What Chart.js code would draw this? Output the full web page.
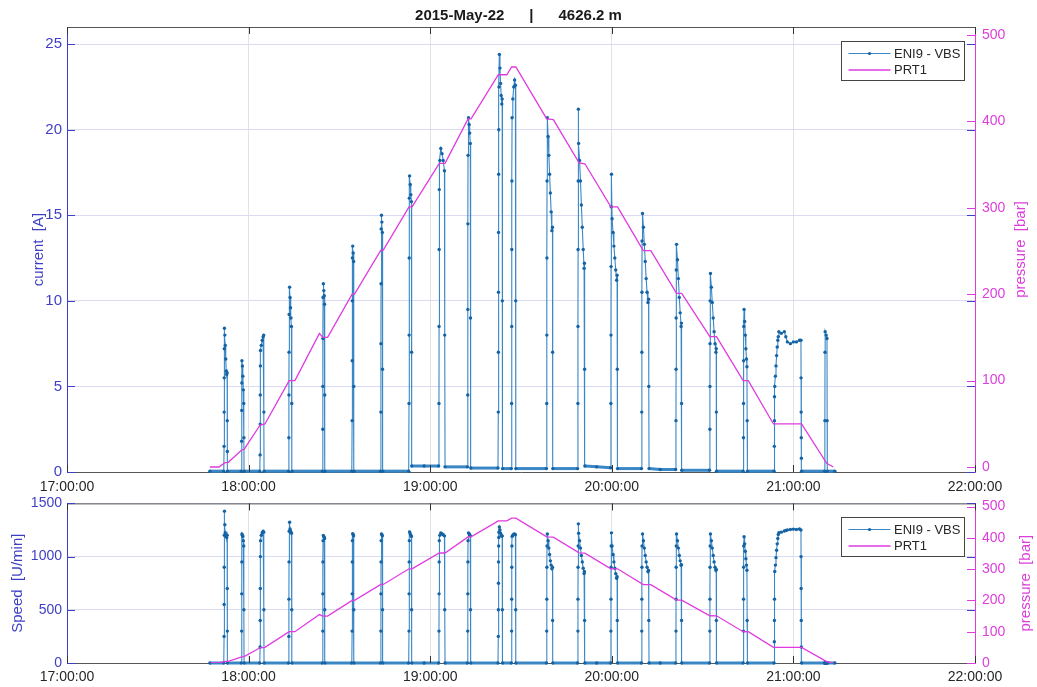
<!DOCTYPE html>
<html><head><meta charset="utf-8">
<script src="https://cdn.jsdelivr.net/npm/chart.js@4.4.0/dist/chart.umd.min.js"></script>
<style>
html,body{margin:0;padding:0;background:#fff;width:1037px;height:687px;overflow:hidden}
#c1{position:absolute;left:0;top:0}
#c2{position:absolute;left:0;top:488px}
</style></head><body>
<canvas id="c1" width="1037" height="492"></canvas>
<canvas id="c2" width="1037" height="199"></canvas>
<script>
// ---------------- data ----------------
const titleText = '2015-May-22      |      4626.2 m';
const seriesNames = ['ENI9 - VBS', 'PRT1'];
const axisTitles = ['current  [A]', 'pressure  [bar]', 'Speed  [U/min]'];
const hourTicks = [0, 60, 120, 180, 240, 300];            // minutes after 17:00
const hourLabels = ['17:00:00', '18:00:00', '19:00:00', '20:00:00', '21:00:00', '22:00:00'];
const currentTicks = [0, 5, 10, 15, 20, 25];
const speedTicks = [0, 500, 1000, 1500];
const pressureTicks = [0, 100, 200, 300, 400, 500];

// sample times (minutes after 17:00), current [A], speed [U/min]
const sampleMinutes = [
  47.2,
  51.80, 51.90, 51.92, 51.95, 51.98, 52.02, 52.15, 52.30, 52.45, 52.60, 52.75, 52.90, 52.95, 52.98, 53.02,
  57.60, 57.70, 57.73, 57.76, 57.80, 57.95, 58.10, 58.25, 58.40, 58.45, 58.50,
  63.70, 63.80, 63.83, 63.86, 63.90, 63.95, 64.20, 64.50, 64.80, 65.00, 65.05, 65.10,
  73.20, 73.30, 73.33, 73.36, 73.40, 73.55, 73.70, 73.85, 74.00, 74.15, 74.25, 74.30,
  84.40, 84.50, 84.53, 84.56, 84.60, 84.70, 84.85, 85.00, 85.10, 85.15, 85.20,
  94.10, 94.20, 94.23, 94.26, 94.30, 94.40, 94.55, 94.70, 94.75, 94.80,
  103.60, 103.70, 103.73, 103.76, 103.80, 103.90, 104.05, 104.20, 104.25, 104.30,
  112.90, 113.00, 113.03, 113.06, 113.10, 113.20, 113.40, 113.60, 113.80, 113.85, 113.90, 118.00,
  122.80, 122.90, 122.93, 122.96, 123.00, 123.20, 123.50, 123.90, 124.30, 124.70, 124.80, 124.90,
  132.30, 132.40, 132.43, 132.46, 132.50, 132.65, 132.85, 133.05, 133.25, 133.32, 133.40,
  142.40, 142.50, 142.52, 142.55, 142.58, 142.62, 142.66, 142.72, 142.85, 143.05, 143.25, 143.45, 143.65, 143.78, 143.84, 143.90,
  146.80, 146.90, 146.93, 146.96, 147.00, 147.05, 147.30, 147.60, 147.90, 148.15, 148.25, 148.30,
  158.40, 158.50, 158.53, 158.56, 158.60, 158.70, 158.95, 159.20, 159.45, 159.70, 159.95, 160.20, 160.40, 160.45, 160.50,
  168.70, 168.80, 168.83, 168.86, 168.90, 168.95, 169.05, 169.35, 169.65, 169.95, 170.25, 170.55, 170.85, 170.95, 171.02, 171.10, 175.00,
  179.60, 179.70, 179.73, 179.76, 179.80, 179.90, 180.10, 180.40, 180.70, 181.00, 181.30, 181.60, 181.75, 181.82, 181.90,
  189.80, 189.90, 189.93, 189.96, 190.00, 190.15, 190.45, 190.75, 191.05, 191.35, 191.65, 191.95, 192.15, 192.22, 192.30, 196.00,
  201.10, 201.20, 201.23, 201.26, 201.30, 201.40, 201.70, 202.00, 202.30, 202.60, 202.90, 203.00, 203.05, 203.10,
  212.30, 212.40, 212.43, 212.46, 212.50, 212.60, 212.90, 213.20, 213.50, 213.80, 214.10, 214.40, 214.50, 214.55, 214.60,
  223.40, 223.50, 223.53, 223.56, 223.60, 223.70, 223.90, 224.10, 224.30, 224.50, 224.65, 224.72, 224.80,
  233.60, 233.70, 233.73, 233.76, 233.85, 234.05, 234.25, 234.45, 234.65, 234.85, 235.00, 235.20, 236.00, 237.00, 237.50, 238.00, 239.00, 240.00, 241.00, 242.00, 242.50, 242.53, 242.56, 242.60, 242.64, 242.70,
  250.30, 250.40, 250.45, 250.50, 250.80, 251.10, 251.15, 251.20, 253.70
];
const currentA = [
  0.05,
  0.05, 1.5, 3.5, 5.5, 7.2, 8.4, 8.0, 7.4, 6.6, 5.9, 5.7, 5.8, 3.0, 1.2, 0.05,
  0.05, 1.8, 3.6, 5.2, 6.5, 6.2, 5.6, 4.8, 4.0, 2.0, 0.05,
  0.05, 1.0, 2.8, 4.5, 6.2, 7.1, 7.4, 7.7, 7.9, 8.0, 3.5, 0.05,
  0.05, 2.0, 4.5, 7.0, 9.2, 10.8, 10.2, 9.6, 9.0, 8.5, 4.0, 0.05,
  0.05, 2.5, 5.0, 7.8, 10.2, 11.0, 10.6, 10.3, 9.8, 4.5, 0.05,
  0.05, 3.0, 6.5, 10.0, 12.5, 13.2, 12.8, 12.3, 5.0, 0.05,
  0.05, 3.5, 7.5, 11.0, 14.2, 15.0, 14.6, 14.0, 6.0, 0.05,
  0.05, 4.0, 8.0, 12.5, 16.0, 17.3, 16.8, 16.2, 15.8, 7.0, 0.35, 0.35,
  0.35, 4.0, 8.5, 13.0, 16.5, 18.2, 18.9, 18.6, 18.2, 17.6, 8.0, 0.30,
  0.30, 4.5, 9.5, 14.5, 18.5, 20.7, 20.3, 19.8, 19.2, 9.0, 0.23,
  0.23, 3.5, 7.0, 10.5, 14.0, 17.4, 20.0, 22.5, 24.4, 23.6, 22.7, 22.0, 21.5, 21.8, 10.0, 0.20,
  0.20, 4.0, 8.5, 13.0, 17.0, 20.7, 21.8, 22.5, 22.9, 22.6, 10.0, 0.20,
  0.20, 4.0, 8.0, 12.5, 17.0, 20.7, 19.6, 18.5, 17.4, 16.3, 15.2, 14.1, 14.3, 7.0, 0.20,
  0.20, 4.0, 8.5, 13.0, 17.0, 21.2, 19.2, 18.2, 17.0, 15.6, 14.3, 13.0, 11.9, 12.2, 6.0, 0.35, 0.30,
  0.25, 4.0, 8.0, 12.0, 15.5, 17.4, 14.8, 14.0, 13.2, 12.5, 11.8, 11.2, 11.5, 6.0, 0.20,
  0.20, 3.5, 7.0, 10.5, 13.5, 15.1, 14.3, 13.3, 12.3, 11.3, 10.5, 9.9, 10.1, 5.0, 0.20, 0.15,
  0.15, 3.0, 6.0, 9.0, 11.8, 13.3, 12.4, 11.3, 10.2, 9.3, 8.5, 8.7, 4.0, 0.10,
  0.10, 2.5, 5.0, 7.5, 10.0, 11.6, 10.8, 9.9, 9.0, 8.2, 7.5, 7.0, 7.2, 3.5, 0.05,
  0.05, 2.0, 4.0, 6.5, 8.5, 9.5, 8.8, 8.0, 7.2, 6.6, 6.15, 3.0, 0.05,
  0.05, 1.5, 3.0, 4.4, 5.0, 5.6, 6.2, 6.8, 7.3, 7.7, 7.9, 8.2, 8.1, 8.2, 7.9, 7.6, 7.5, 7.6, 7.6, 7.7, 7.7, 5.5, 3.5, 2.0, 0.8, 0.05,
  0.05, 3.0, 7.0, 8.2, 8.0, 7.8, 3.0, 0.05, 0.05
];
const speedRpm = [
  0,
  0, 250, 550, 900, 1200, 1427, 1300, 1225, 1200, 1190, 1180, 1200, 700, 300, 0,
  0, 300, 650, 950, 1213, 1200, 1190, 1150, 1100, 500, 0,
  0, 150, 400, 700, 1000, 1150, 1200, 1225, 1238, 1230, 500, 0,
  0, 250, 600, 950, 1238, 1323, 1260, 1240, 1230, 1220, 500, 0,
  0, 300, 650, 950, 1150, 1198, 1190, 1180, 1170, 500, 0,
  0, 300, 650, 950, 1150, 1216, 1205, 1195, 500, 0,
  0, 300, 650, 950, 1150, 1213, 1205, 1195, 500, 0,
  0, 300, 650, 950, 1150, 1232, 1215, 1200, 1190, 500, 0, 0,
  0, 300, 650, 950, 1150, 1200, 1223, 1215, 1205, 1195, 500, 0,
  0, 300, 650, 950, 1150, 1223, 1215, 1205, 1195, 500, 0,
  0, 250, 500, 750, 950, 1100, 1180, 1230, 1278, 1250, 1220, 1200, 1192, 1195, 500, 0,
  0, 300, 600, 900, 1100, 1190, 1200, 1210, 1213, 1205, 500, 0,
  0, 300, 600, 900, 1100, 1213, 1150, 1080, 1020, 960, 920, 887, 900, 400, 0,
  0, 300, 600, 900, 1100, 1308, 1220, 1150, 1080, 1010, 950, 890, 841, 860, 400, 0, 0,
  0, 300, 600, 900, 1100, 1223, 1100, 1020, 950, 890, 840, 796, 810, 400, 0,
  0, 300, 600, 900, 1100, 1213, 1150, 1080, 1010, 950, 900, 860, 870, 400, 0, 0,
  0, 300, 600, 900, 1100, 1213, 1150, 1080, 1010, 960, 918, 925, 400, 0,
  0, 300, 600, 900, 1100, 1213, 1150, 1080, 1010, 950, 900, 872, 880, 400, 0,
  0, 300, 600, 900, 1100, 1186, 1120, 1050, 980, 920, 872, 400, 0,
  0, 200, 400, 600, 860, 920, 990, 1060, 1120, 1170, 1207, 1225, 1230, 1240, 1245, 1250, 1255, 1258, 1255, 1260, 1250, 1000, 700, 400, 150, 0,
  0, 0, 0, 0, 0, 0, 0, 0, 0
];

// pressure PRT1 [bar]
const pressureMinutes = [47.2, 50.2, 52.2, 53.3, 57.7, 58.5, 63.8, 65.4, 73.4, 75.3, 83.4, 84.5, 86.1, 94.2, 95.0,
  103.7, 104.5, 113.0, 114.0, 123.0, 124.9, 132.5, 133.5, 142.5, 145.3, 146.9, 148.3, 158.5, 160.7,
  169.2, 171.1, 179.7, 181.9, 190.4, 192.9, 201.4, 203.1, 212.4, 214.6, 223.4, 225.1, 233.4, 242.7, 251.0, 253.2];
const pressureBar = [0, 0, 5, 5.4, 19.7, 20.4, 48.6, 49.8, 100, 100, 154.7, 150, 150, 200, 200,
  251, 251, 301, 301, 351.5, 351.5, 403, 403, 454, 454, 463, 463, 403, 402,
  352, 351, 301, 301, 250.5, 250.5, 201, 201, 151, 150.8, 100, 99.9, 49.8, 49.8, 4.3, 0];

// ---------------- styles ----------------
const FONT = "'Liberation Sans', Arial, Helvetica, sans-serif";
const BLUE_AX = '#3f3fc6';
const MAG_AX = '#dc3edc';
const CUR_LINE = '#3a87c6';
const CUR_DOT = '#1463a4';
const PRS_LINE = '#e03ae0';
const TXT = '#262626';

function series(xs, ys) { return xs.map((x, i) => ({ x: x, y: ys[i] })); }

const framePlugin = {
  id: 'frame',
  afterDatasetsDraw(chart, args, opts) {
    const { ctx, chartArea: a, scales } = chart;
    const x = scales.x, yL = scales.y, yR = scales.y2;
    ctx.save();
    ctx.lineWidth = 1;
    ctx.strokeStyle = '#555';
    ctx.beginPath(); ctx.moveTo(a.left, a.top + 0.5); ctx.lineTo(a.right, a.top + 0.5); ctx.stroke();
    ctx.strokeStyle = '#333';
    x.ticks.forEach(t => {
      const px = Math.round(x.getPixelForValue(t.value)) + 0.5;
      ctx.beginPath();
      ctx.moveTo(px, a.top); ctx.lineTo(px, a.top + 7);
      ctx.moveTo(px, a.bottom); ctx.lineTo(px, a.bottom - 7);
      ctx.stroke();
    });
    ctx.strokeStyle = BLUE_AX;
    yL.ticks.forEach(t => {
      const py = Math.round(yL.getPixelForValue(t.value)) + 0.5;
      ctx.beginPath();
      ctx.moveTo(a.left, py); ctx.lineTo(a.left + 8, py);
      ctx.moveTo(a.right, py); ctx.lineTo(a.right - 8, py);
      ctx.stroke();
    });
    ctx.strokeStyle = MAG_AX;
    yR.ticks.forEach(t => {
      const py = Math.round(yR.getPixelForValue(t.value)) + 0.5;
      ctx.beginPath(); ctx.moveTo(a.right, py); ctx.lineTo(a.right - 8, py); ctx.stroke();
    });
    // right axis title (reads bottom to top)
    ctx.save();
    ctx.fillStyle = MAG_AX; ctx.font = '15px ' + FONT;
    ctx.textAlign = 'center'; ctx.textBaseline = 'middle';
    ctx.translate(opts.rtX, (a.top + a.bottom) / 2);
    ctx.rotate(-Math.PI / 2);
    ctx.fillText(axisTitles[1], 0, 0);
    ctx.restore();
    // legend box
    const bw = 123, bh = 39;
    const bx = Math.round(a.right - 11 - bw) + 0.5, by = Math.round(a.top + opts.legendTop) + 0.5;
    ctx.fillStyle = '#fff'; ctx.fillRect(bx, by, bw, bh);
    ctx.strokeStyle = '#444'; ctx.lineWidth = 1; ctx.strokeRect(bx, by, bw, bh);
    const ds = chart.data.datasets;
    const cur = ds.find(d => d.label === seriesNames[0]);
    const prs = ds.find(d => d.label === seriesNames[1]);
    ctx.strokeStyle = CUR_LINE; ctx.lineWidth = 1;
    ctx.beginPath(); ctx.moveTo(bx + 7, by + 12); ctx.lineTo(bx + 49, by + 12); ctx.stroke();
    ctx.fillStyle = CUR_DOT; ctx.beginPath(); ctx.arc(bx + 28, by + 12, 1.6, 0, Math.PI * 2); ctx.fill();
    ctx.strokeStyle = PRS_LINE; ctx.lineWidth = 1.3;
    ctx.beginPath(); ctx.moveTo(bx + 7, by + 28.5); ctx.lineTo(bx + 49, by + 28.5); ctx.stroke();
    ctx.fillStyle = TXT; ctx.font = '13px ' + FONT; ctx.textAlign = 'left'; ctx.textBaseline = 'middle';
    ctx.fillText(cur.label, bx + 52.5, by + 12.5);
    ctx.fillText(prs.label, bx + 52.5, by + 29);
    ctx.restore();
  }
};

function xScale(h, pad) {
  return {
    type: 'linear', position: 'bottom', min: 0, max: 300,
    afterBuildTicks: s => { s.ticks = hourTicks.map(v => ({ value: v })); },
    afterFit: s => { s.height = h; },
    ticks: { callback: v => hourLabels[hourTicks.indexOf(v)], color: TXT, font: { size: 14, family: FONT }, padding: pad, maxRotation: 0, autoSkip: false },
    grid: { color: '#e2e2e2', drawTicks: false },
    border: { color: '#555' }
  };
}

function makeChart(id, leftVals, leftTicks, leftMin, leftMax, rMin, rMax, leftTitle, leftTitlePad, leftFont, xh, xpad, topPad, rtX, thr, withTitle) {
  return new Chart(document.getElementById(id), {
    type: 'line',
    data: {
      datasets: [
        { label: seriesNames[1], data: series(pressureMinutes, pressureBar), yAxisID: 'y2',
          borderColor: PRS_LINE, borderWidth: 1.3, pointRadius: 0, tension: 0, order: 0 },
        { label: seriesNames[0], data: series(sampleMinutes, leftVals), yAxisID: 'y',
          borderColor: CUR_LINE, borderWidth: 1.1, pointRadius: 1.7, pointBackgroundColor: CUR_DOT,
          pointBorderWidth: 0, tension: 0, order: 1,
          segment: { borderWidth: c => (c.p0.parsed.y < thr && c.p1.parsed.y < thr) ? 3 : 1.1 },
          clip: { left: 0, right: 0, top: 0, bottom: 3 } }
      ]
    },
    options: {
      responsive: false, animation: false, events: [],
      layout: { padding: { top: topPad, left: 0, right: 0, bottom: 0 } },
      plugins: {
        legend: { display: false }, tooltip: { enabled: false },
        title: { display: withTitle, text: titleText, color: '#1a1a1a',
          font: { size: 15, weight: 'bold', family: FONT }, padding: { top: 7, bottom: 2 } },
        frame: { rtX: rtX, legendTop: 13.7 }
      },
      scales: {
        x: xScale(xh, xpad),
        y: {
          position: 'left', min: leftMin, max: leftMax,
          afterBuildTicks: s => { s.ticks = leftTicks.map(v => ({ value: v })); },
          afterFit: s => { s.width = 67; },
          ticks: { callback: v => String(v), color: BLUE_AX, font: { size: leftFont, family: FONT }, padding: 5 },
          grid: { color: '#dadaf2', drawTicks: false },
          border: { color: BLUE_AX },
          title: { display: true, text: leftTitle, color: BLUE_AX, font: { size: 15, family: FONT }, padding: { top: leftTitlePad, bottom: 0 } }
        },
        y2: {
          position: 'right', min: rMin, max: rMax,
          afterBuildTicks: s => { s.ticks = pressureTicks.map(v => ({ value: v })); },
          afterFit: s => { s.width = 62; },
          ticks: { callback: v => String(v), color: MAG_AX, font: { size: 14, family: FONT }, padding: 7 },
          grid: { display: false, drawTicks: false },
          border: { color: MAG_AX }
        }
      }
    },
    plugins: [framePlugin]
  });
}

makeChart('c1', currentA, currentTicks, 0, 26, -5.8, 509.3, axisTitles[0], 29.5, 15, 20, 7, 0, 1021, 0.5, true);
makeChart('c2', speedRpm, speedTicks, 0, 1500, 0, 510, axisTitles[2], 8.5, 14, 24, 6, 11, 1026, 20, false);
</script></body></html>
